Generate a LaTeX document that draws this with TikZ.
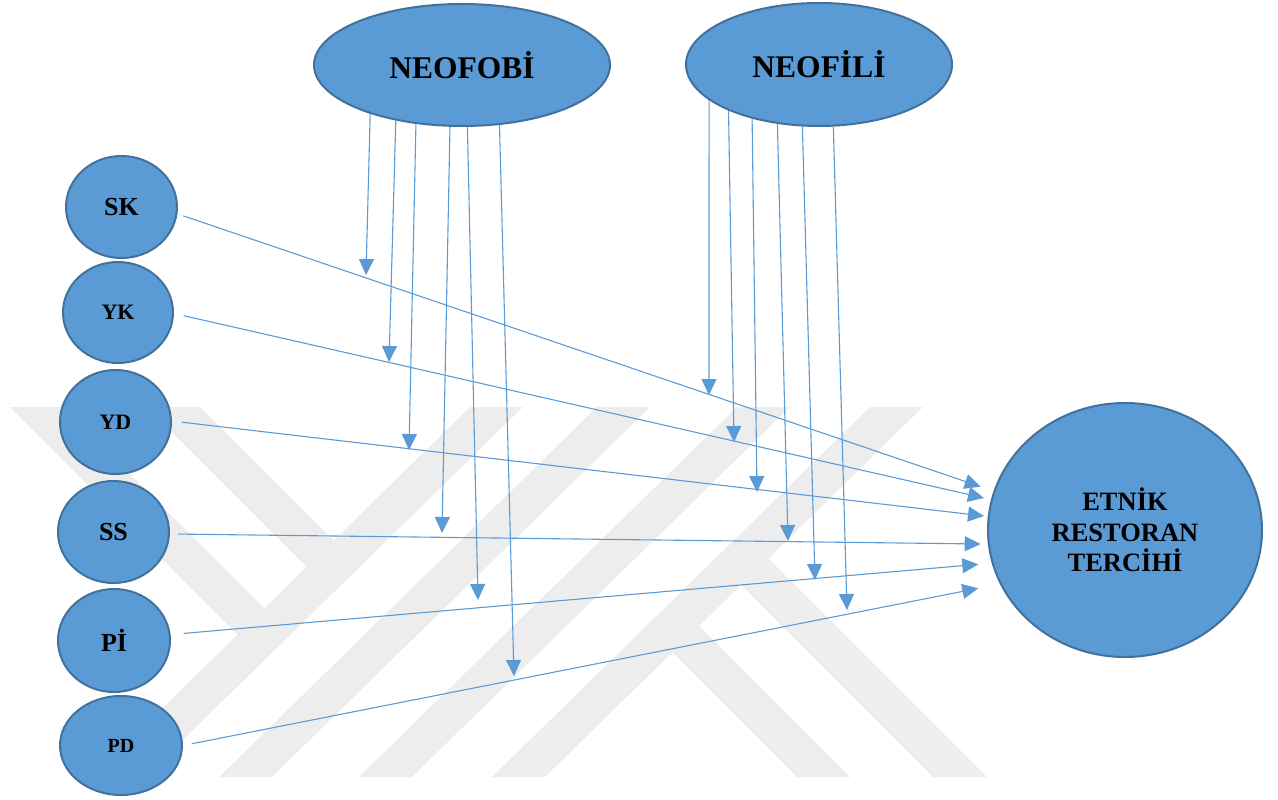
\documentclass[tikz,border=0pt]{standalone}
\usepackage{fontspec}
\setmainfont{Liberation Serif}
\usetikzlibrary{arrows.meta,shapes.geometric}
\definecolor{nodefill}{HTML}{5B9BD5}
\definecolor{nodeline}{HTML}{41719C}
\definecolor{linkblue}{HTML}{5B9BD5}
\definecolor{markgray}{HTML}{EDEDED}

\begin{document}
\begin{tikzpicture}[x=1pt,y=-1pt,
  bubble/.style={ellipse, draw=nodeline, line width=2pt, fill=nodefill,
                 inner sep=0pt, align=center},
  link/.style={draw=linkblue, line width=1.1pt,
               -{Triangle[length=16pt,width=15pt]}},
  band/.style={fill=markgray, draw=none}]
\useasboundingbox (0,0) rectangle (1278,800);

% faint background emblem made of slanted bands
\begin{scope}
  \clip (0,407) rectangle (1278,777);
  \fill[band] (470,407) -- (523,407) -- (145,777) -- (92,777) -- cycle;
  \fill[band] (597,407) -- (650,407) -- (272,777) -- (219,777) -- cycle;
  \fill[band] (737,407) -- (790,407) -- (412,777) -- (359,777) -- cycle;
  \fill[band] (870,407) -- (923,407) -- (545,777) -- (492,777) -- cycle;
  \fill[band] (10,407) -- (63,407) -- (277.4,621.4) -- (250.6,647.6) -- cycle;
  \fill[band] (147,407) -- (200,407) -- (346.7,553.7) -- (319.9,579.9) -- cycle;
  \fill[band] (686,613) -- (850,777) -- (797,777) -- (659.3,639.3) -- cycle;
  \fill[band] (755.3,545.3) -- (987,777) -- (933,777) -- (727.9,571.9) -- cycle;
\end{scope}

% moderators
\node[bubble, minimum width=296pt, minimum height=122pt,
      font=\bfseries\fontsize{31.5}{34}\selectfont] (neofobi) at (462,65) {NEOFOBİ};
\node[bubble, minimum width=266pt, minimum height=123pt,
      font=\bfseries\fontsize{31.5}{34}\selectfont] (neofili) at (819,64.5) {NEOFİLİ};

% predictors
\node[bubble, minimum width=111pt, minimum height=102pt,
      font=\bfseries\fontsize{26}{28}\selectfont] (sk) at (121.5,207) {SK};
\node[bubble, minimum width=110pt, minimum height=101pt,
      font=\bfseries\fontsize{22}{24}\selectfont] (yk) at (118,312.5) {YK};
\node[bubble, minimum width=111pt, minimum height=104pt,
      font=\bfseries\fontsize{22}{24}\selectfont] (yd) at (115.5,422) {YD};
\node[bubble, minimum width=111pt, minimum height=102pt,
      font=\bfseries\fontsize{26}{28}\selectfont] (ss) at (113.5,532) {SS};
\node[bubble, minimum width=112pt, minimum height=103pt,
      font=\bfseries\fontsize{26}{28}\selectfont] (pi) at (114,640.5) {Pİ};
\node[bubble, minimum width=122pt, minimum height=99pt,
      font=\bfseries\fontsize{20}{22}\selectfont] (pd) at (121,745.5) {PD};

% outcome
\node[bubble, minimum width=274pt, minimum height=254pt,
      font=\bfseries\fontsize{26.5}{30.5}\selectfont] (etnik) at (1125,530)
      {ETNİK\\RESTORAN\\TERCİHİ};

% arrow tips in front of the outcome
\coordinate (t1) at (980.7,486.7);
\coordinate (t2) at (984,498);
\coordinate (t3) at (984,516);
\coordinate (t4) at (980.7,544);
\coordinate (t5) at (978.3,564.3);
\coordinate (t6) at (978.3,588.3);

% arrow tips of the moderating effects
\coordinate (m1) at (366,275);
\coordinate (m2) at (389,362);
\coordinate (m3) at (409,450);
\coordinate (m4) at (442,533);
\coordinate (m5) at (478,600);
\coordinate (m6) at (514,676);
\coordinate (n1) at (709,395);
\coordinate (n2) at (734,442);
\coordinate (n3) at (757,492);
\coordinate (n4) at (788,541);
\coordinate (n5) at (815,580);
\coordinate (n6) at (847,610);

% direct effects
\draw[link, shorten <=6pt]  (sk.-7)  -- (t1);
\draw[link, shorten <=10pt] (yk.-1.3) -- (t2);
\draw[link, shorten <=10pt] (yd.1)   -- (t3);
\draw[link, shorten <=8pt]  (ss.-2.7) -- (t4);
\draw[link, shorten <=13pt] (pi.6.2) -- (t5);
\draw[link, shorten <=9pt]  (pd.0)   -- (t6);

% moderating effects
\draw[link] (neofobi.208.7) -- (m1);
\draw[link] (neofobi.220.7) -- (m2);
\draw[link] (neofobi.232.9) -- (m3);
\draw[link] (neofobi.259.7) -- (m4);
\draw[link] (neofobi.275.6) -- (m5);
\draw[link] (neofobi.302.1) -- (m6);
\draw[link] (neofili.198.4) -- (n1);
\draw[link] (neofili.207.6) -- (n2);
\draw[link] (neofili.219.0) -- (n3);
\draw[link] (neofili.235.7) -- (n4);
\draw[link] (neofili.255.3) -- (n5);
\draw[link] (neofili.283.8) -- (n6);
\end{tikzpicture}
\end{document}
